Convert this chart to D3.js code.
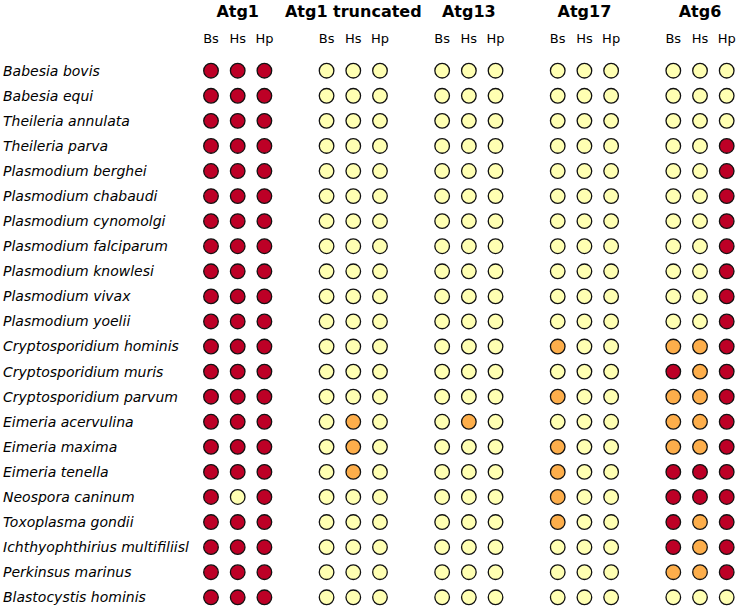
<!DOCTYPE html>
<html>
<head>
<meta charset="utf-8">
<script src="https://cdn.jsdelivr.net/npm/d3@7"></script>
<style>
  body { margin: 0; background: #fff; }
  text { font-family: "DejaVu Sans", sans-serif; fill: #000; }
</style>
</head>
<body>
<svg id="chart" width="740" height="610"></svg>
<script>
// rows
var species = [
  "Babesia bovis", "Babesia equi", "Theileria annulata", "Theileria parva",
  "Plasmodium berghei", "Plasmodium chabaudi", "Plasmodium cynomolgi",
  "Plasmodium falciparum", "Plasmodium knowlesi", "Plasmodium vivax",
  "Plasmodium yoelii", "Cryptosporidium hominis", "Cryptosporidium muris",
  "Cryptosporidium parvum", "Eimeria acervulina", "Eimeria maxima",
  "Eimeria tenella", "Neospora caninum", "Toxoplasma gondii",
  "Ichthyophthirius multifiliisl", "Perkinsus marinus", "Blastocystis hominis"
];

var genes = ["Atg1", "Atg1 truncated", "Atg13", "Atg17", "Atg6"];
var subs = ["Bs", "Hs", "Hp"];

// 0 = absent, 1 = partial, 2 = present  (Bs, Hs, Hp)
var atg1 = [
  [2,2,2],[2,2,2],[2,2,2],[2,2,2],[2,2,2],[2,2,2],[2,2,2],[2,2,2],[2,2,2],[2,2,2],[2,2,2],
  [2,2,2],[2,2,2],[2,2,2],[2,2,2],[2,2,2],[2,2,2],[2,0,2],[2,2,2],[2,2,2],[2,2,2],[2,2,2]
];
var atg1Truncated = [
  [0,0,0],[0,0,0],[0,0,0],[0,0,0],[0,0,0],[0,0,0],[0,0,0],[0,0,0],[0,0,0],[0,0,0],[0,0,0],
  [0,0,0],[0,0,0],[0,0,0],[0,1,0],[0,1,0],[0,1,0],[0,0,0],[0,0,0],[0,0,0],[0,0,0],[0,0,0]
];
var atg13 = [
  [0,0,0],[0,0,0],[0,0,0],[0,0,0],[0,0,0],[0,0,0],[0,0,0],[0,0,0],[0,0,0],[0,0,0],[0,0,0],
  [0,0,0],[0,0,0],[0,0,0],[0,1,0],[0,0,0],[0,0,0],[0,0,0],[0,0,0],[0,0,0],[0,0,0],[0,0,0]
];
var atg17 = [
  [0,0,0],[0,0,0],[0,0,0],[0,0,0],[0,0,0],[0,0,0],[0,0,0],[0,0,0],[0,0,0],[0,0,0],[0,0,0],
  [1,0,0],[0,0,0],[1,0,0],[0,0,0],[1,0,0],[1,0,0],[1,0,0],[1,0,0],[0,0,0],[0,0,0],[0,0,0]
];
var atg6 = [
  [0,0,0],[0,0,0],[0,0,0],[0,0,2],[0,0,2],[0,0,2],[0,0,2],[0,0,2],[0,0,2],[0,0,2],[0,0,2],
  [1,1,2],[2,1,2],[1,1,2],[1,1,2],[1,1,2],[2,2,2],[2,2,2],[2,1,2],[2,1,2],[1,1,2],[0,0,0]
];

var matrices = [atg1, atg1Truncated, atg13, atg17, atg6];

var svg = d3.select("#chart");

var y = d3.scalePoint().domain(species).range([70.7, 597.3]);
var gx = d3.scalePoint().domain(genes).range([237.7, 700]);
var sx = d3.scalePoint().domain(subs).range([-26.7, 26.7]);
var color = d3.scaleOrdinal().domain([0, 1, 2]).range(["#ffffb2", "#fdae4b", "#bd0026"]);

// species labels
svg.append("g").selectAll("text")
  .data(species)
  .enter().append("text")
  .attr("x", 3)
  .attr("y", function(d) { return y(d); })
  .attr("dy", "0.35em")
  .style("font-size", "14px")
  .style("font-style", "italic")
  .text(function(d) { return d; });

// gene titles
svg.append("g").selectAll("text")
  .data(genes)
  .enter().append("text")
  .attr("x", function(d) { return gx(d); })
  .attr("y", 17)
  .attr("text-anchor", "middle")
  .style("font-size", "16px")
  .style("font-weight", "bold")
  .text(function(d) { return d; });

// sub headers
genes.forEach(function(g) {
  svg.append("g").selectAll("text")
    .data(subs)
    .enter().append("text")
    .attr("x", function(s) { return gx(g) + sx(s); })
    .attr("y", 43)
    .attr("text-anchor", "middle")
    .style("font-size", "13px")
    .text(function(s) { return s; });
});

// dots
var cells = [];
genes.forEach(function(g, gi) {
  species.forEach(function(sp, si) {
    subs.forEach(function(s, k) {
      cells.push({ gene: g, species: sp, sub: s, value: matrices[gi][si][k] });
    });
  });
});

svg.append("g").selectAll("circle")
  .data(cells)
  .enter().append("circle")
  .attr("cx", function(d) { return gx(d.gene) + sx(d.sub); })
  .attr("cy", function(d) { return y(d.species); })
  .attr("r", 7.3)
  .attr("fill", function(d) { return color(d.value); })
  .attr("stroke", "#111")
  .attr("stroke-width", 1.3);
</script>
</body>
</html>
